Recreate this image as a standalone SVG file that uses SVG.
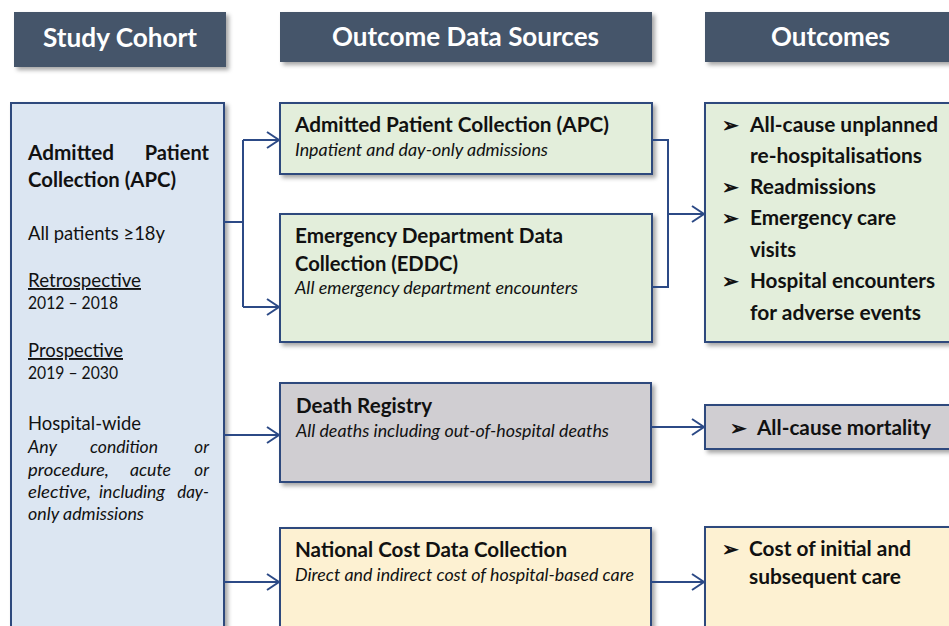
<svg xmlns="http://www.w3.org/2000/svg" width="949" height="626" viewBox="0 0 949 626">
<defs>
<filter id="sh" x="-10%" y="-10%" width="130%" height="130%">
<feDropShadow dx="3" dy="3" stdDeviation="2" flood-color="#000" flood-opacity="0.35"/>
</filter>
<marker id="arr" markerUnits="userSpaceOnUse" markerWidth="16" markerHeight="20" refX="13" refY="9" orient="auto">
<path d="M1,1 L13,9 L1,17" fill="none" stroke="#2c4a86" stroke-width="2"/>
</marker>
<style>
text{font-family:Lato,"Open Sans","Liberation Sans",sans-serif;fill:#111;}
.hdr{fill:#44546a;filter:url(#sh);}
.ht{fill:#fff;font-weight:bold;font-size:26px;}
.box{stroke:#2e4a7d;stroke-width:2;filter:url(#sh);}
.blue{fill:#dce6f2;}
.green{fill:#e3eedb;}
.gray{fill:#d0ced2;}
.yel{fill:#fdf1d2;}
.b{font-weight:bold;font-size:20px;}
.r{font-size:19px;}
.s{font-size:17px;}
.i{font-style:italic;font-size:17px;}
.u{text-decoration:underline;}
.e{text-anchor:end;}
.con{fill:none;stroke:#2c4a86;stroke-width:2;}
</style>
</defs>
<rect width="949" height="626" fill="#fff"/>

<g id="hdr-cohort"><rect class="hdr" x="14" y="12" width="212" height="55"/><text class="ht" x="43" y="47" textLength="154" lengthAdjust="spacingAndGlyphs">Study Cohort</text></g>
<g id="hdr-sources"><rect class="hdr" x="280" y="12" width="372" height="50"/><text class="ht" x="332" y="46" textLength="267" lengthAdjust="spacingAndGlyphs">Outcome Data Sources</text></g>
<g id="hdr-outcomes"><rect class="hdr" x="705" y="12" width="250" height="50"/><text class="ht" x="771" y="46" textLength="119" lengthAdjust="spacingAndGlyphs">Outcomes</text></g>

<g id="cohort">
<rect class="box blue" x="11" y="103" width="213" height="540"/>
<text class="b" x="28" y="160" textLength="86" lengthAdjust="spacingAndGlyphs">Admitted</text>
<text class="b e" x="209" y="160">Patient</text>
<text class="b" x="28" y="187" textLength="148" lengthAdjust="spacingAndGlyphs">Collection (APC)</text>
<text class="r" x="28" y="240" textLength="137" lengthAdjust="spacingAndGlyphs">All patients ≥18y</text>
<text class="r u" x="28" y="287" textLength="113" lengthAdjust="spacingAndGlyphs">Retrospective</text>
<text class="s" x="28" y="309" textLength="90" lengthAdjust="spacingAndGlyphs">2012 – 2018</text>
<text class="r u" x="28" y="357" textLength="95" lengthAdjust="spacingAndGlyphs">Prospective</text>
<text class="s" x="28" y="379" textLength="90" lengthAdjust="spacingAndGlyphs">2019 – 2030</text>
<text class="r" x="28" y="430" textLength="113" lengthAdjust="spacingAndGlyphs">Hospital-wide</text>
<text class="i" x="28" y="453" textLength="29" lengthAdjust="spacingAndGlyphs">Any</text><text class="i" x="90" y="453" textLength="68" lengthAdjust="spacingAndGlyphs">condition</text><text class="i e" x="209" y="453">or</text>
<text class="i" x="28" y="476" textLength="81" lengthAdjust="spacingAndGlyphs">procedure,</text><text class="i" x="130" y="476" textLength="41" lengthAdjust="spacingAndGlyphs">acute</text><text class="i e" x="209" y="476">or</text>
<text class="i" x="28" y="498" textLength="63" lengthAdjust="spacingAndGlyphs">elective,</text><text class="i" x="99" y="498" textLength="66" lengthAdjust="spacingAndGlyphs">including</text><text class="i e" x="209" y="498">day-</text>
<text class="i" x="28" y="520" textLength="116" lengthAdjust="spacingAndGlyphs">only admissions</text>
</g>

<g id="src-apc">
<rect class="box green" x="280" y="103" width="372" height="71"/>
<text class="b" x="295" y="132" textLength="314" lengthAdjust="spacingAndGlyphs">Admitted Patient Collection (APC)</text>
<text class="i" x="295" y="156" textLength="253" lengthAdjust="spacingAndGlyphs">Inpatient and day-only admissions</text>
</g>
<g id="src-eddc">
<rect class="box green" x="280" y="214" width="372" height="128"/>
<text class="b" x="295" y="243" textLength="268" lengthAdjust="spacingAndGlyphs">Emergency Department Data</text>
<text class="b" x="295" y="271" textLength="163" lengthAdjust="spacingAndGlyphs">Collection (EDDC)</text>
<text class="i" x="295" y="294" textLength="283" lengthAdjust="spacingAndGlyphs">All emergency department encounters</text>
</g>
<g id="src-death">
<rect class="box gray" x="280" y="383" width="371" height="99"/>
<text class="b" x="296" y="413" textLength="136" lengthAdjust="spacingAndGlyphs">Death Registry</text>
<text class="i" x="296" y="437" textLength="313" lengthAdjust="spacingAndGlyphs">All deaths including out-of-hospital deaths</text>
</g>
<g id="src-cost">
<rect class="box yel" x="280" y="528" width="371" height="120"/>
<text class="b" x="295" y="557" textLength="272" lengthAdjust="spacingAndGlyphs">National Cost Data Collection</text>
<text class="i" x="295" y="581" textLength="339" lengthAdjust="spacingAndGlyphs">Direct and indirect cost of hospital-based care</text>
</g>

<g id="out-hosp">
<rect class="box green" x="705" y="103" width="260" height="239"/>
<g class="b">
<text x="722" y="132">➢</text><text x="750" y="132" textLength="188" lengthAdjust="spacingAndGlyphs">All-cause unplanned</text>
<text x="750" y="163" textLength="172" lengthAdjust="spacingAndGlyphs">re-hospitalisations</text>
<text x="722" y="194">➢</text><text x="750" y="194" textLength="126" lengthAdjust="spacingAndGlyphs">Readmissions</text>
<text x="722" y="225">➢</text><text x="750" y="225" textLength="146" lengthAdjust="spacingAndGlyphs">Emergency care</text>
<text x="750" y="257" textLength="46" lengthAdjust="spacingAndGlyphs">visits</text>
<text x="722" y="288">➢</text><text x="750" y="288" textLength="185" lengthAdjust="spacingAndGlyphs">Hospital encounters</text>
<text x="750" y="320" textLength="171" lengthAdjust="spacingAndGlyphs">for adverse events</text>
</g>
</g>
<g id="out-mort">
<rect class="box gray" x="705" y="405" width="260" height="44"/>
<text class="b" x="730" y="435">➢</text><text class="b" x="757" y="435" textLength="174" lengthAdjust="spacingAndGlyphs">All-cause mortality</text>
</g>
<g id="out-cost">
<rect class="box yel" x="705" y="527" width="260" height="120"/>
<text class="b" x="722" y="556">➢</text><text class="b" x="749" y="556" textLength="162" lengthAdjust="spacingAndGlyphs">Cost of initial and</text>
<text class="b" x="749" y="584" textLength="152" lengthAdjust="spacingAndGlyphs">subsequent care</text>
</g>

<g id="connectors">
<path class="con" d="M224,222 H243"/>
<path class="con" d="M243,140 V307"/>
<path class="con" d="M243,140 H279" marker-end="url(#arr)"/>
<path class="con" d="M243,307 H279" marker-end="url(#arr)"/>
<path class="con" d="M224,435 H279" marker-end="url(#arr)"/>
<path class="con" d="M224,582 H279" marker-end="url(#arr)"/>
<path class="con" d="M652,140 H668 V287 H652"/>
<path class="con" d="M668,214 H704" marker-end="url(#arr)"/>
<path class="con" d="M651,427 H704" marker-end="url(#arr)"/>
<path class="con" d="M651,582 H704" marker-end="url(#arr)"/>
</g>
</svg>
